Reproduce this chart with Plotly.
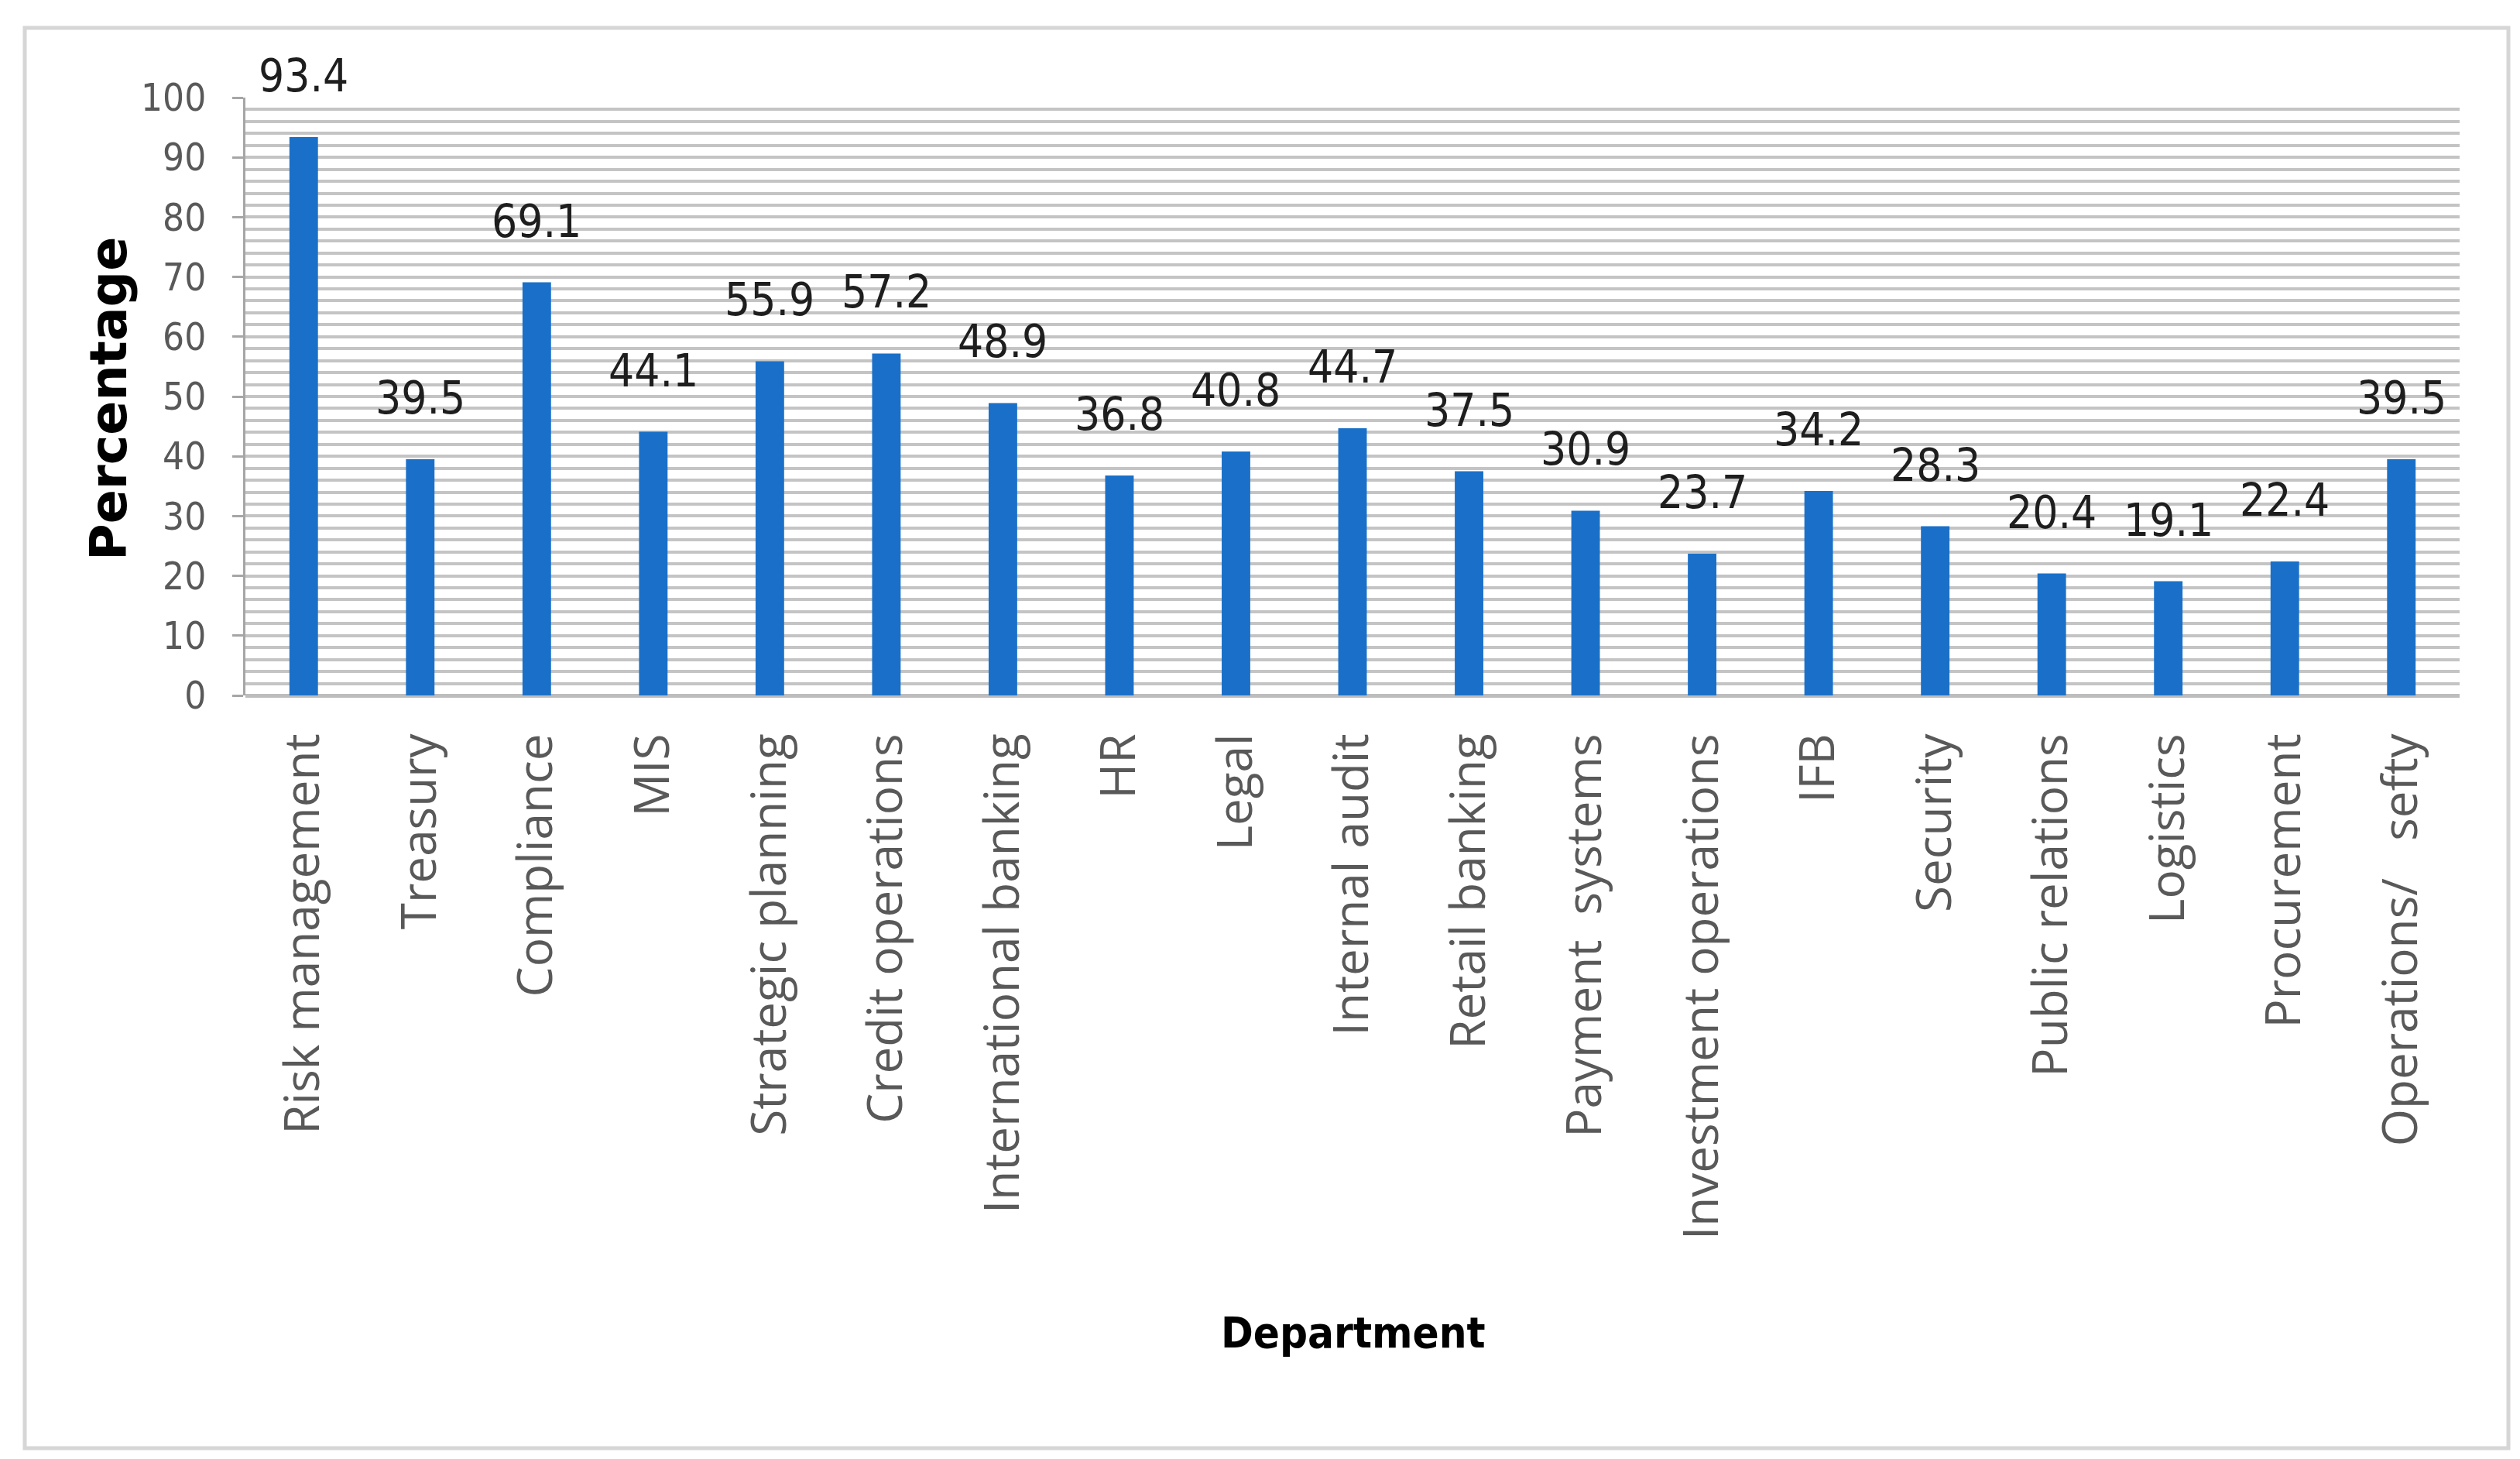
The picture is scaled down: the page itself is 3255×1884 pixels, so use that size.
import plotly.graph_objects as go

departments = ["Risk management", "Treasury", "Compliance", "MIS", "Strategic planning",
               "Credit operations", "International banking", "HR", "Legal", "Internal audit",
               "Retail banking", "Payment\u00a0\u00a0systems", "Investment operations", "IFB",
               "Security", "Public relations", "Logistics", "Procurement",
               "Operations/\u00a0\u00a0\u00a0sefty"]
percentages = [93.4, 39.5, 69.1, 44.1, 55.9, 57.2, 48.9, 36.8, 40.8, 44.7,
               37.5, 30.9, 23.7, 34.2, 28.3, 20.4, 19.1, 22.4, 39.5]
y_ticks = [0, 10, 20, 30, 40, 50, 60, 70, 80, 90, 100]

W, H = 3255, 1884
L, R, T, B = 309, 3169, 118, 890
pw, ph = R - L, B - T

narrow = "Liberation Sans Narrow, DejaVu Sans Condensed, Arial Narrow, sans-serif"

fig = go.Figure()
fig.add_trace(go.Bar(
    x=departments, y=percentages,
    marker=dict(color="#1a70c8", line=dict(width=0)),
    width=0.245,
    hoverinfo="x+y",
))

annotations = []
for d, v in zip(departments, percentages):
    annotations.append(dict(
        x=d, y=v, xref="x", yref="y", text=f"{v:.1f}", showarrow=False,
        yanchor="bottom", yshift=43,
        font=dict(family=narrow, size=58, color="#1e1e1e"),
    ))
annotations.append(dict(
    x=(1740 - L) / pw, y=(B - 1712) / ph, xref="paper", yref="paper",
    text="<b>Department</b>", showarrow=False, xanchor="center", yanchor="middle",
    font=dict(family=narrow, size=56, color="#000000"),
))
annotations.append(dict(
    x=(132 - L) / pw, y=(B - 507) / ph, xref="paper", yref="paper",
    text="<b>Percentage</b>", showarrow=False, textangle=-90,
    xanchor="center", yanchor="middle",
    font=dict(family="DejaVu Sans, sans-serif", size=65, color="#000000"),
))

fig.update_layout(
    width=W, height=H,
    margin=dict(l=L, r=W - R, t=T, b=H - B, autoexpand=False),
    paper_bgcolor="white", plot_bgcolor="white",
    showlegend=False,
    bargap=0.755,
    annotations=annotations,
    shapes=[dict(
        type="rect", xref="paper", yref="paper",
        x0=(24 - L) / pw, x1=(3232 - L) / pw,
        y0=(B - 1862) / ph, y1=(B - 28) / ph,
        line=dict(color="#d6d6d6", width=5), fillcolor="rgba(0,0,0,0)", layer="below",
    )],
    xaxis=dict(
        type="category", tickangle=-90, showgrid=False, zeroline=False,
        showline=False, ticks="", ticklabelstandoff=36,
        tickfont=dict(family="Open Sans, DejaVu Sans, sans-serif", size=62, color="#595959"),
        automargin=False,
    ),
    yaxis=dict(
        range=[0, 100], tickvals=y_ticks, ticktext=[str(t) for t in y_ticks],
        showgrid=True, gridcolor="#c4c4c4", gridwidth=4,
        minor=dict(dtick=2, showgrid=True, gridcolor="#c4c4c4", gridwidth=4, ticks=""),
        zeroline=True, zerolinecolor="#bdbdbd", zerolinewidth=5,
        showline=True, linecolor="#a6a6a6", linewidth=3,
        ticks="outside", ticklen=14, tickwidth=3, tickcolor="#a6a6a6",
        ticklabelstandoff=24,
        tickfont=dict(family=narrow, size=49, color="#595959"),
        automargin=False,
    ),
)

fig.write_html("out.html")
